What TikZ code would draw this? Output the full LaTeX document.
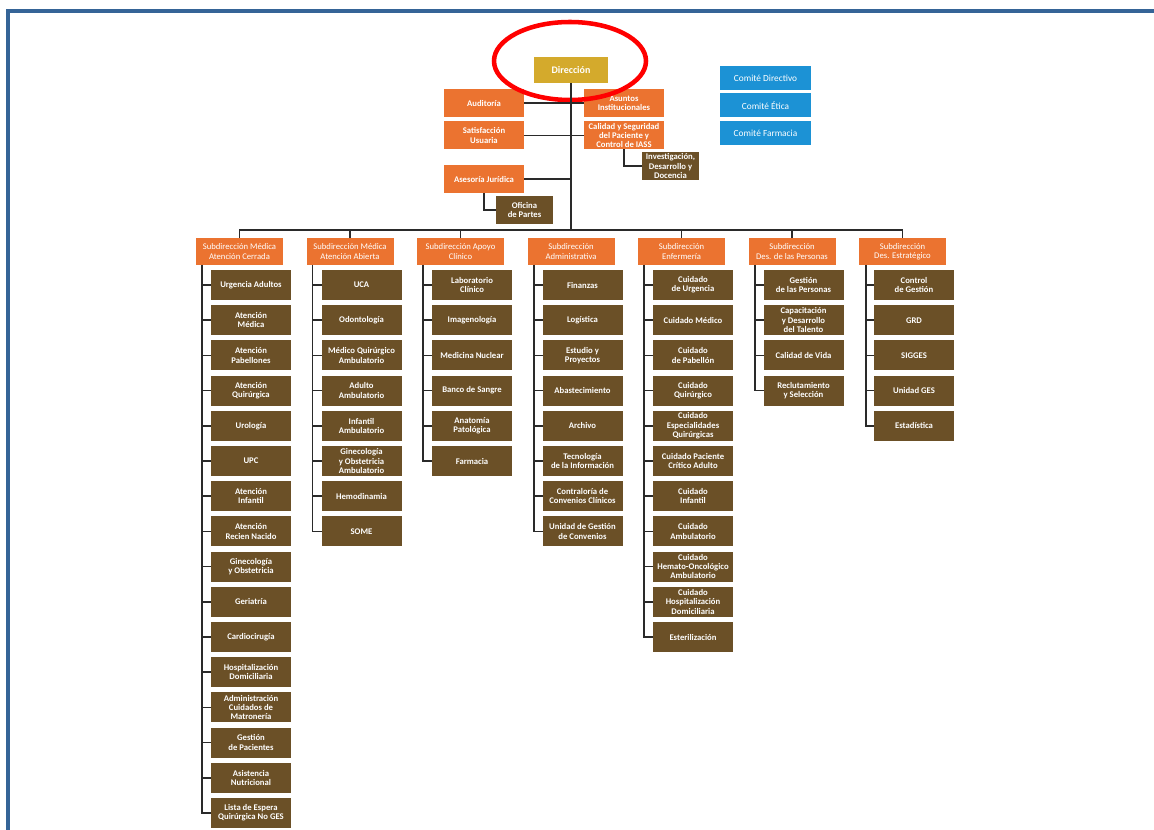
\documentclass[tikz,border=0pt]{standalone}
\usepackage{fontspec}
\setmainfont{Carlito}
\setsansfont{Carlito}
\usepackage{xcolor}
\definecolor{dirGold}{HTML}{D4AA2C}
\definecolor{unitOrange}{HTML}{EB7330}
\definecolor{unitBrown}{HTML}{6B5027}
\definecolor{comBlue}{HTML}{1C92D5}
\definecolor{lineDark}{HTML}{2A2A2A}
\definecolor{frameBlue}{HTML}{356497}
\usepackage{tikz}
\usetikzlibrary{
    shapes.geometric,
    positioning
}
\tikzset{
    % Base style for all boxes
    org base/.style={
        font=\sffamily\fontsize{6.5}{7}\selectfont,
        align=center,
        text=white,
        inner sep=0.8pt,
        outer sep=0pt,
    },
    % Same, bold lettering
    org bold/.style={
        org base,
        font=\sffamily\bfseries\fontsize{6.5}{7}\selectfont,
    },
    % Head of the hospital
    director/.style={
        org bold,
        fill=dirGold,
        minimum width=55.5pt,
        minimum height=19.5pt,
        font=\sffamily\bfseries\fontsize{7.5}{8}\selectfont,
    },
    % Advisory units next to the trunk
    staff/.style={
        org bold,
        fill=unitOrange,
        minimum width=60pt,
        minimum height=21pt,
    },
    % Small dependent offices
    office/.style={
        org bold,
        fill=unitBrown,
        minimum width=42.75pt,
        minimum height=21pt,
    },
    % Committees on the right
    committee/.style={
        org base,
        fill=comBlue,
        minimum width=68.25pt,
        minimum height=18pt,
        font=\sffamily\fontsize{7}{7.5}\selectfont,
    },
    % Subdirection headers
    subdir/.style={
        org base,
        fill=unitOrange,
        minimum width=65.25pt,
        minimum height=20.25pt,
    },
    % Units below each subdirection
    unitbox/.style={
        org bold,
        fill=unitBrown,
        minimum width=60pt,
        minimum height=22.5pt,
    },
    % Connectors
    link/.style={
        draw=lineDark,
        line width=1.2pt,
    },
    % Red mark round the head
    highlight/.style={
        ellipse,
        draw=red,
        line width=3.4pt,
        minimum width=114pt,
        minimum height=58.5pt,
    },
    % Page frame
    frame/.style={
        draw=frameBlue,
        line width=2.3pt,
    },
}

\begin{document}
\begin{tikzpicture}[x=0.75pt, y=-0.75pt, node distance=3.9pt]
    \useasboundingbox (0,0) rectangle (1154,830);
    \draw[frame] (8,830) |- (1154,11);

    % top of the chart
    \node (dir) [director] at (571,70) {Dirección};
    \node (auditoria) [staff] at (484,103) {Auditoría};
    \node (asuntos) [staff] at (624,103) {Asuntos\\Institucionales};
    \node (satisf) [staff] at (484,135.5) {Satisfacción\\Usuaria};
    \node (calidad) [staff] at (624,135.5) {Calidad y Seguridad\\del Paciente y\\Control de IASS};
    \node (investig) [office] at (670.5,166) {Investigación,\\Desarrollo y\\Docencia};
    \node (asesoria) [staff] at (484,179) {Asesoría Jurídica};
    \node (oficina) [office] at (524.5,210) {Oficina\\de Partes};

    \node (com_dir) [committee] at (765.5,78) {Comité Directivo};
    \node (com_etica) [committee] at (765.5,105.5) {Comité Ética};
    \node (com_farm) [committee] at (765.5,133) {Comité Farmacia};

    \node (dirmark) [highlight] at (570,61) {};

    % subdirections
    \node (sub_cerrada) [subdir] at (239.5,251.5) {Subdirección Médica\\Atención Cerrada};
    \node (sub_abierta) [subdir] at (350,251.5) {Subdirección Médica\\Atención Abierta};
    \node (sub_apoyo) [subdir] at (460.5,251.5) {Subdirección Apoyo\\Clínico};
    \node (sub_admin) [subdir] at (571,251.5) {Subdirección\\Administrativa};
    \node (sub_enf) [subdir] at (681.5,251.5) {Subdirección\\Enfermería};
    \node (sub_pers) [subdir] at (792,251.5) {Subdirección\\Des. de las Personas};
    \node (sub_estrat) [subdir] at (902.5,251.5) {Subdirección\\Des. Estratégico};

    % Atención Cerrada
    \node (cer1) [unitbox] at (251,285) {Urgencia Adultos};
    \node (cer2) [unitbox, below=of cer1] {Atención\\Médica};
    \node (cer3) [unitbox, below=of cer2] {Atención\\Pabellones};
    \node (cer4) [unitbox, below=of cer3] {Atención\\Quirúrgica};
    \node (cer5) [unitbox, below=of cer4] {Urología};
    \node (cer6) [unitbox, below=of cer5] {UPC};
    \node (cer7) [unitbox, below=of cer6] {Atención\\Infantil};
    \node (cer8) [unitbox, below=of cer7] {Atención\\Recien Nacido};
    \node (cer9) [unitbox, below=of cer8] {Ginecología\\y Obstetricia};
    \node (cer10) [unitbox, below=of cer9] {Geriatría};
    \node (cer11) [unitbox, below=of cer10] {Cardiocirugía};
    \node (cer12) [unitbox, below=of cer11] {Hospitalización\\Domiciliaria};
    \node (cer13) [unitbox, below=of cer12] {Administración\\Cuidados de\\Matronería};
    \node (cer14) [unitbox, below=of cer13] {Gestión\\de Pacientes};
    \node (cer15) [unitbox, below=of cer14] {Asistencia\\Nutricional};
    \node (cer16) [unitbox, below=of cer15] {Lista de Espera\\Quirúrgica No GES};

    % Atención Abierta
    \node (abi1) [unitbox] at (361.5,285) {UCA};
    \node (abi2) [unitbox, below=of abi1] {Odontología};
    \node (abi3) [unitbox, below=of abi2] {Médico Quirúrgico\\Ambulatorio};
    \node (abi4) [unitbox, below=of abi3] {Adulto\\Ambulatorio};
    \node (abi5) [unitbox, below=of abi4] {Infantil\\Ambulatorio};
    \node (abi6) [unitbox, below=of abi5] {Ginecología\\y Obstetricia\\Ambulatorio};
    \node (abi7) [unitbox, below=of abi6] {Hemodinamia};
    \node (abi8) [unitbox, below=of abi7] {SOME};

    % Apoyo Clínico
    \node (apo1) [unitbox] at (472,285) {Laboratorio\\Clínico};
    \node (apo2) [unitbox, below=of apo1] {Imagenología};
    \node (apo3) [unitbox, below=of apo2] {Medicina Nuclear};
    \node (apo4) [unitbox, below=of apo3] {Banco de Sangre};
    \node (apo5) [unitbox, below=of apo4] {Anatomía\\Patológica};
    \node (apo6) [unitbox, below=of apo5] {Farmacia};

    % Administrativa
    \node (adm1) [unitbox] at (582.5,285) {Finanzas};
    \node (adm2) [unitbox, below=of adm1] {Logística};
    \node (adm3) [unitbox, below=of adm2] {Estudio y\\Proyectos};
    \node (adm4) [unitbox, below=of adm3] {Abastecimiento};
    \node (adm5) [unitbox, below=of adm4] {Archivo};
    \node (adm6) [unitbox, below=of adm5] {Tecnología\\de la Información};
    \node (adm7) [unitbox, below=of adm6] {Contraloría de\\Convenios Clínicos};
    \node (adm8) [unitbox, below=of adm7] {Unidad de Gestión\\de Convenios};

    % Enfermería
    \node (enf1) [unitbox] at (693,285) {Cuidado\\de Urgencia};
    \node (enf2) [unitbox, below=of enf1] {Cuidado Médico};
    \node (enf3) [unitbox, below=of enf2] {Cuidado\\de Pabellón};
    \node (enf4) [unitbox, below=of enf3] {Cuidado\\Quirúrgico};
    \node (enf5) [unitbox, below=of enf4] {Cuidado\\Especialidades\\Quirúrgicas};
    \node (enf6) [unitbox, below=of enf5] {Cuidado Paciente\\Crítico Adulto};
    \node (enf7) [unitbox, below=of enf6] {Cuidado\\Infantil};
    \node (enf8) [unitbox, below=of enf7] {Cuidado\\Ambulatorio};
    \node (enf9) [unitbox, below=of enf8] {Cuidado\\Hemato-Oncológico\\Ambulatorio};
    \node (enf10) [unitbox, below=of enf9] {Cuidado\\Hospitalización\\Domiciliaria};
    \node (enf11) [unitbox, below=of enf10] {Esterilización};

    % Des. de las Personas
    \node (per1) [unitbox] at (803.5,285) {Gestión\\de las Personas};
    \node (per2) [unitbox, below=of per1] {Capacitación\\y Desarrollo\\del Talento};
    \node (per3) [unitbox, below=of per2] {Calidad de Vida};
    \node (per4) [unitbox, below=of per3] {Reclutamiento\\y Selección};

    % Des. Estratégico
    \node (est1) [unitbox] at (914,285) {Control\\de Gestión};
    \node (est2) [unitbox, below=of est1] {GRD};
    \node (est3) [unitbox, below=of est2] {SIGGES};
    \node (est4) [unitbox, below=of est3] {Unidad GES};
    \node (est5) [unitbox, below=of est4] {Estadística};

    % spines and bus
    \coordinate (bus) at (571,230);
    \coordinate (sp_cer) at (202,265);
    \coordinate (sp_abi) at (312.5,265);
    \coordinate (sp_apo) at (423,265);
    \coordinate (sp_adm) at (534,265);
    \coordinate (sp_enf) at (644,265);
    \coordinate (sp_per) at (755,265);
    \coordinate (sp_est) at (866,265);

    % connectors, top
    \draw[link] (dir.south) -- (bus);
    \draw[link] (auditoria.east) -- (asuntos.west);
    \draw[link] (satisf.east) -- (calidad.west);
    \draw[link] (asesoria.east) -- (asesoria.east -| bus);
    \draw[link] (calidad.south) |- (investig.west);
    \draw[link] (asesoria.south) |- (oficina.west);

    \draw[link] (sub_cerrada.north) |- (bus) -| (sub_estrat.north);
    \draw[link] (sub_abierta.north) |- (bus);
    \draw[link] (sub_apoyo.north) |- (bus);
    \draw[link] (sub_enf.north) |- (bus);
    \draw[link] (sub_pers.north) |- (bus);

    % connectors, columns
    \draw[link] (sp_cer) |- (cer1.west) (sp_cer) |- (cer2.west) (sp_cer) |- (cer3.west)
        (sp_cer) |- (cer4.west) (sp_cer) |- (cer5.west) (sp_cer) |- (cer6.west)
        (sp_cer) |- (cer7.west) (sp_cer) |- (cer8.west) (sp_cer) |- (cer9.west)
        (sp_cer) |- (cer10.west) (sp_cer) |- (cer11.west) (sp_cer) |- (cer12.west)
        (sp_cer) |- (cer13.west) (sp_cer) |- (cer14.west) (sp_cer) |- (cer15.west)
        (sp_cer) |- (cer16.west);
    \draw[link] (sp_abi) |- (abi1.west) (sp_abi) |- (abi2.west) (sp_abi) |- (abi3.west)
        (sp_abi) |- (abi4.west) (sp_abi) |- (abi5.west) (sp_abi) |- (abi6.west)
        (sp_abi) |- (abi7.west) (sp_abi) |- (abi8.west);
    \draw[link] (sp_apo) |- (apo1.west) (sp_apo) |- (apo2.west) (sp_apo) |- (apo3.west)
        (sp_apo) |- (apo4.west) (sp_apo) |- (apo5.west) (sp_apo) |- (apo6.west);
    \draw[link] (sp_adm) |- (adm1.west) (sp_adm) |- (adm2.west) (sp_adm) |- (adm3.west)
        (sp_adm) |- (adm4.west) (sp_adm) |- (adm5.west) (sp_adm) |- (adm6.west)
        (sp_adm) |- (adm7.west) (sp_adm) |- (adm8.west);
    \draw[link] (sp_enf) |- (enf1.west) (sp_enf) |- (enf2.west) (sp_enf) |- (enf3.west)
        (sp_enf) |- (enf4.west) (sp_enf) |- (enf5.west) (sp_enf) |- (enf6.west)
        (sp_enf) |- (enf7.west) (sp_enf) |- (enf8.west) (sp_enf) |- (enf9.west)
        (sp_enf) |- (enf10.west) (sp_enf) |- (enf11.west);
    \draw[link] (sp_per) |- (per1.west) (sp_per) |- (per2.west) (sp_per) |- (per3.west)
        (sp_per) |- (per4.west);
    \draw[link] (sp_est) |- (est1.west) (sp_est) |- (est2.west) (sp_est) |- (est3.west)
        (sp_est) |- (est4.west) (sp_est) |- (est5.west);
\end{tikzpicture}
\end{document}
